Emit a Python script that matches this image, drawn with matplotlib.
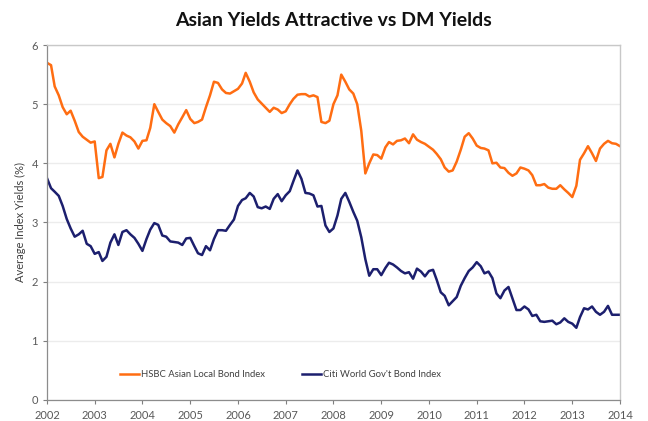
import matplotlib
matplotlib.use("Agg")
import matplotlib.pyplot as plt
import numpy as np
import pandas as pd

# Monthly average index yields (%), Jan 2002 - Jan 2014
hsbc_asian_local = [
    5.70, 5.66, 5.30, 5.15, 4.95, 4.83, 4.89, 4.72, 4.53, 4.45, 4.40, 4.35,
    4.37, 3.75, 3.77, 4.22, 4.33, 4.10, 4.33, 4.52, 4.47, 4.44, 4.37, 4.25,
    4.38, 4.39, 4.60, 5.00, 4.87, 4.74, 4.68, 4.63, 4.52, 4.66, 4.78, 4.90,
    4.75, 4.68, 4.70, 4.74, 4.95, 5.15, 5.38, 5.36, 5.25, 5.19, 5.18, 5.22,
    5.26, 5.35, 5.53, 5.38, 5.20, 5.08, 5.01, 4.94, 4.87, 4.94, 4.91, 4.85,
    4.88, 5.00, 5.09, 5.16, 5.17, 5.17, 5.13, 5.15, 5.12, 4.70, 4.68, 4.72,
    5.00, 5.15, 5.50, 5.38, 5.25, 5.18, 5.00, 4.55, 3.83, 4.00, 4.15, 4.14,
    4.08, 4.27, 4.36, 4.32, 4.38, 4.39, 4.42, 4.34, 4.49, 4.40, 4.36, 4.33,
    4.28, 4.23, 4.16, 4.07, 3.93, 3.86, 3.88, 4.03, 4.23, 4.45, 4.51, 4.42,
    4.30, 4.26, 4.25, 4.22, 4.00, 4.01, 3.93, 3.92, 3.84, 3.79, 3.83, 3.93,
    3.91, 3.88, 3.80, 3.63, 3.63, 3.65, 3.59, 3.57, 3.57, 3.63, 3.56, 3.50,
    3.43, 3.62, 4.06, 4.17, 4.29, 4.17, 4.04, 4.25, 4.33, 4.38, 4.34, 4.33,
    4.29,
]

citi_world_govt = [
    3.75, 3.58, 3.52, 3.45, 3.28, 3.06, 2.90, 2.76, 2.80, 2.86, 2.64, 2.60,
    2.47, 2.50, 2.35, 2.42, 2.66, 2.80, 2.62, 2.84, 2.87, 2.80, 2.74, 2.64,
    2.52, 2.72, 2.88, 2.99, 2.96, 2.78, 2.76, 2.68, 2.67, 2.66, 2.62, 2.73,
    2.74, 2.60, 2.48, 2.45, 2.60, 2.53, 2.72, 2.87, 2.87, 2.86, 2.96, 3.05,
    3.28, 3.38, 3.41, 3.50, 3.44, 3.26, 3.24, 3.27, 3.23, 3.40, 3.48, 3.36,
    3.46, 3.53, 3.70, 3.88, 3.74, 3.50, 3.49, 3.46, 3.27, 3.28, 2.95, 2.84,
    2.90, 3.12, 3.40, 3.50, 3.35, 3.18, 3.03, 2.75, 2.38, 2.10, 2.21, 2.21,
    2.11, 2.23, 2.32, 2.29, 2.24, 2.18, 2.14, 2.16, 2.05, 2.22, 2.17, 2.09,
    2.18, 2.20, 2.03, 1.82, 1.76, 1.60, 1.67, 1.74, 1.93, 2.06, 2.18, 2.24,
    2.33, 2.26, 2.14, 2.17, 2.06, 1.80, 1.72, 1.85, 1.91, 1.72, 1.52, 1.52,
    1.58, 1.53, 1.42, 1.44, 1.33, 1.32, 1.33, 1.34, 1.28, 1.31, 1.38, 1.32,
    1.29, 1.22, 1.40, 1.55, 1.53, 1.58, 1.49, 1.44, 1.49, 1.59, 1.44, 1.44,
    1.44,
]

dates = pd.date_range("2002-01-01", periods=len(hsbc_asian_local), freq="MS")
year_ticks = list(range(2002, 2015))
y_ticks = [0, 1, 2, 3, 4, 5, 6]

series_labels = ["HSBC Asian Local Bond Index", "Citi World Gov't Bond Index"]
orange = "#FF6D12"
navy = "#1C1F6E"
tick_grey = "#595959"

plt.rcParams["font.family"] = ["Lato", "DejaVu Sans"]

fig = plt.figure(figsize=(6.48, 4.21), dpi=100)
ax = fig.add_axes([0.0725, 0.050, 0.8843, 0.843])

ax.plot(dates, hsbc_asian_local, color=orange, lw=1.8, label=series_labels[0])
ax.plot(dates, citi_world_govt, color=navy, lw=1.8, label=series_labels[1])

ax.set_xlim(pd.Timestamp("2002-01-01"), pd.Timestamp("2014-01-01"))
ax.set_ylim(0, 6)
ax.set_xticks([pd.Timestamp(f"{y}-01-01") for y in year_ticks])
ax.set_xticklabels([str(y) for y in year_ticks])
ax.set_yticks(y_ticks)
ax.tick_params(axis="both", labelsize=8, colors="#7f7f7f", labelcolor=tick_grey,
               length=3, width=0.8, direction="out")
ax.tick_params(axis="x", pad=4)

ax.grid(axis="y", color="#ececec", lw=1.0)
ax.set_axisbelow(True)
for side in ["left", "bottom"]:
    ax.spines[side].set_color("#8c8c8c")
    ax.spines[side].set_linewidth(0.9)
for side in ["top", "right"]:
    ax.spines[side].set_color("#c8c8c8")
    ax.spines[side].set_linewidth(1.0)

ax.set_ylabel("Average Index Yields (%)", fontsize=8, color="#404040", labelpad=4)

ax.legend(loc="center left", bbox_to_anchor=(0.128, 0.072), ncol=2, frameon=False,
          fontsize=6.8, handlelength=2.0, handletextpad=0.15, columnspacing=4.0,
          labelcolor="#404040", borderaxespad=0, borderpad=0)

fig.text(0.514, 0.952, "Asian Yields Attractive vs DM Yields", ha="center",
         va="center", fontsize=14, fontweight="bold", color="#111111")

fig.savefig("out.png", dpi=100)
